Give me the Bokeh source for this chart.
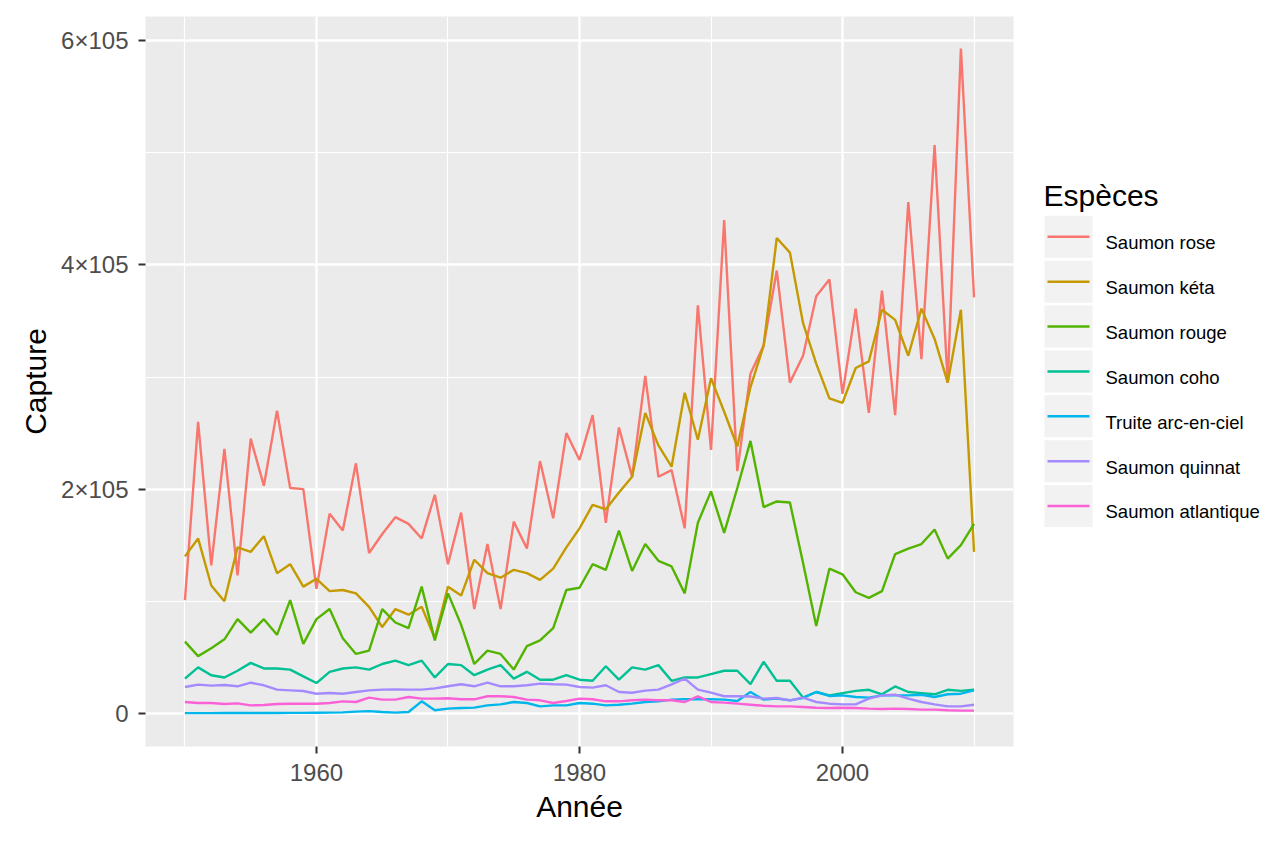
from bokeh.plotting import figure
from bokeh.models import FixedTicker, Range1d
from bokeh.layouts import row
from bokeh.core.properties import value
from bokeh.embed import file_html
from bokeh.resources import INLINE

# ---------------- data ----------------
years = list(range(1950, 2011))

species = ["Saumon rose", "Saumon kéta", "Saumon rouge", "Saumon coho",
           "Truite arc-en-ciel", "Saumon quinnat", "Saumon atlantique"]
colors = ["#F8766D", "#C49A00", "#53B400", "#00C094", "#00B6EB", "#A58AFF", "#FB61D7"]

rose = [101, 260, 132, 236, 123, 245, 203, 270, 201, 200,
        111, 178, 163, 223, 143, 160, 175, 169, 156, 195,
        133, 179, 93, 151, 93, 171, 147, 225, 174, 250,
        226, 266, 170, 255, 211, 301, 211, 217, 165, 364,
        235, 440, 216, 303, 328, 395, 295, 319, 372, 387,
        285, 361, 268, 377, 266, 456, 316, 507, 295, 593,
        371]
keta = [140, 156, 114, 100, 148, 144, 158, 125, 133, 113,
        120, 109, 110, 107, 95, 77, 93, 88, 95, 67,
        113, 105, 137, 125, 121, 128, 125, 119, 129, 148,
        165, 186, 182, 197, 211, 268, 239, 220, 286, 244,
        299, 269, 238, 291, 328, 424, 411, 348, 312, 281,
        277, 308, 314, 360, 351, 319, 361, 334, 295, 360,
        144]
rouge = [64, 51, 58, 66, 84, 72, 84, 70, 101, 62,
         84, 93, 67, 53, 56, 93, 81, 76, 113, 65,
         107, 79, 44, 56, 53, 39, 60, 65, 76, 110,
         112, 133, 128, 163, 127, 151, 136, 131, 107, 170,
         198, 161, 201, 243, 184, 189, 188, 134, 78, 129,
         124, 108, 103, 109, 142, 147, 151, 164, 138, 150,
         169]
coho = [31, 41, 34, 32, 38, 45, 40, 40, 39, 33,
        27, 37, 40, 41, 39, 44, 47, 43, 47, 32,
        44, 43, 34, 39, 43, 31, 37, 30, 30, 34,
        30, 29, 42, 30, 41, 39, 43, 29, 32, 32,
        35, 38, 38, 26, 46, 29, 29, 14, 19, 16,
        18, 20, 21, 17, 24, 19, 18, 17, 21, 20,
        21]
truite = [0.2, 0.2, 0.2, 0.3, 0.3, 0.3, 0.3, 0.3, 0.4, 0.4,
          0.5, 0.6, 0.8, 1.5, 2.0, 1.2, 0.6, 1.2, 10.7, 2.7,
          4.2, 4.8, 5.1, 7.1, 8.0, 10.1, 9.2, 6.2, 7.1, 7.1,
          9.2, 8.6, 7.1, 7.7, 8.6, 10.1, 10.7, 12.2, 12.5, 12.5,
          12.5, 12.2, 11.0, 19.0, 12.2, 13.1, 11.6, 13.7, 19.0, 15.5,
          16.0, 14.6, 14.0, 16.0, 16.0, 16.0, 16.6, 14.6, 17.0, 17.5,
          20.5]
quinnat = [23.5, 25.6, 24.7, 25.3, 24.1, 27.3, 25.0, 21.1, 20.5, 19.9,
           17.5, 18.1, 17.5, 19.0, 20.5, 21.1, 21.4, 21.1, 21.1, 22.3,
           24.1, 25.9, 24.1, 27.4, 24.1, 24.1, 25.0, 26.5, 25.9, 25.6,
           23.5, 22.9, 25.0, 19.0, 18.4, 20.2, 21.1, 25.9, 30.9, 21.1,
           18.5, 15.2, 15.2, 15.0, 13.1, 13.7, 11.6, 14.0, 10.1, 8.6,
           8.0, 8.0, 13.1, 16.0, 16.6, 13.1, 10.1, 8.0, 6.2, 6.2,
           7.7]
atlantique = [10.1, 9.2, 9.2, 8.3, 8.9, 7.1, 7.4, 8.3, 8.6, 8.6,
              8.6, 9.2, 10.7, 10.1, 14.0, 12.2, 12.2, 14.6, 13.1, 13.1,
              13.5, 12.5, 12.5, 15.2, 15.2, 14.6, 12.2, 11.6, 9.2, 11.0,
              13.1, 12.5, 10.7, 10.7, 11.6, 12.2, 11.6, 11.6, 10.1, 15.2,
              10.1, 9.5, 8.6, 7.7, 6.8, 6.2, 6.2, 5.6, 5.0, 4.8,
              5.0, 4.8, 4.2, 3.9, 4.2, 3.9, 3.3, 3.3, 2.7, 2.4,
              2.4]
series_k = [rose, keta, rouge, coho, truite, quinnat, atlantique]  # thousands

x_ticks = [1960, 1980, 2000]
x_minor = [1950, 1970, 1990, 2010]
y_ticks = [0, 200000, 400000, 600000]
y_minor = [100000, 300000, 500000]
y_tick_labels = ["0", "2×105", "4×105", "6×105"]

FONT = "Liberation Sans"
H = 835

# ---------------- main plot ----------------
MW = 1018
p = figure(width=MW, height=H,
           x_range=Range1d(1947, 2013), y_range=Range1d(-29600, 621600),
           output_backend="svg", toolbar_location=None,
           min_border_left=145, min_border_right=5,
           min_border_top=16, min_border_bottom=89)
p.background_fill_color = "#EBEBEB"
p.border_fill_color = "white"
p.outline_line_color = None

for vals, col in zip(series_k, colors):
    p.line(years, [v * 1000 for v in vals], line_color=col, line_width=2.4)

xt = FixedTicker(ticks=x_ticks, minor_ticks=x_minor)
yt = FixedTicker(ticks=y_ticks, minor_ticks=y_minor)
p.xaxis.ticker = xt
p.yaxis.ticker = yt
p.xgrid.ticker = xt
p.ygrid.ticker = yt
p.yaxis.major_label_overrides = {t: l for t, l in zip(y_ticks, y_tick_labels)}

for g in (p.xgrid, p.ygrid):
    g.grid_line_color = "white"
    g.grid_line_width = 2.4
    g.minor_grid_line_color = "white"
    g.minor_grid_line_width = 1.2

for ax in (p.xaxis, p.yaxis):
    ax.axis_line_color = None
    ax.major_tick_line_color = "#333333"
    ax.major_tick_line_width = 2
    ax.major_tick_out = 7
    ax.major_tick_in = 0
    ax.minor_tick_line_color = None
    ax.major_label_text_font = FONT
    ax.major_label_text_font_size = "24px"
    ax.major_label_text_color = "#4D4D4D"
    ax.axis_label_text_font = FONT
    ax.axis_label_text_font_size = "30px"
    ax.axis_label_text_font_style = "normal"
    ax.axis_label_text_color = "black"

p.xaxis.axis_label = "Année"
p.yaxis.axis_label = "Capture"
p.xaxis.major_label_standoff = 10
p.yaxis.major_label_standoff = 10
p.xaxis.axis_label_standoff = 6
p.yaxis.axis_label_standoff = 6

# ---------------- legend panel ----------------
LW = 1262 - MW
lg = figure(width=LW, height=H, x_range=Range1d(0, LW), y_range=Range1d(0, H),
            output_backend="svg", toolbar_location=None,
            x_axis_type=None, y_axis_type=None, min_border=0)
lg.outline_line_color = None
lg.background_fill_color = "white"
lg.border_fill_color = "white"
lg.xgrid.visible = False
lg.ygrid.visible = False

pitch = 51.33
first_key = 252
key_left = 1044 - MW
key_y = [H - (first_key + pitch * i) for i in range(len(species))]
lg.rect(x=key_left + 24, y=key_y, width=48, height=48, fill_color="#F2F2F2", line_color=None)
lg.segment(x0=key_left + 3, y0=key_y, x1=key_left + 45, y1=key_y,
           line_color=colors, line_width=2.4)
lg.text(x=key_left + 61, y=[k - 6.7 for k in key_y], text=species,
        text_font=value(FONT), text_font_size="18.5px",
        text_baseline="alphabetic", text_align="left", text_color="black")
lg.text(x=[key_left - 1], y=[H - 205], text=["Espèces"],
        text_font=value(FONT), text_font_size="30px",
        text_baseline="alphabetic", text_align="left", text_color="black")

layout = row(p, lg)
open("out.html", "w").write(file_html(layout, INLINE))
